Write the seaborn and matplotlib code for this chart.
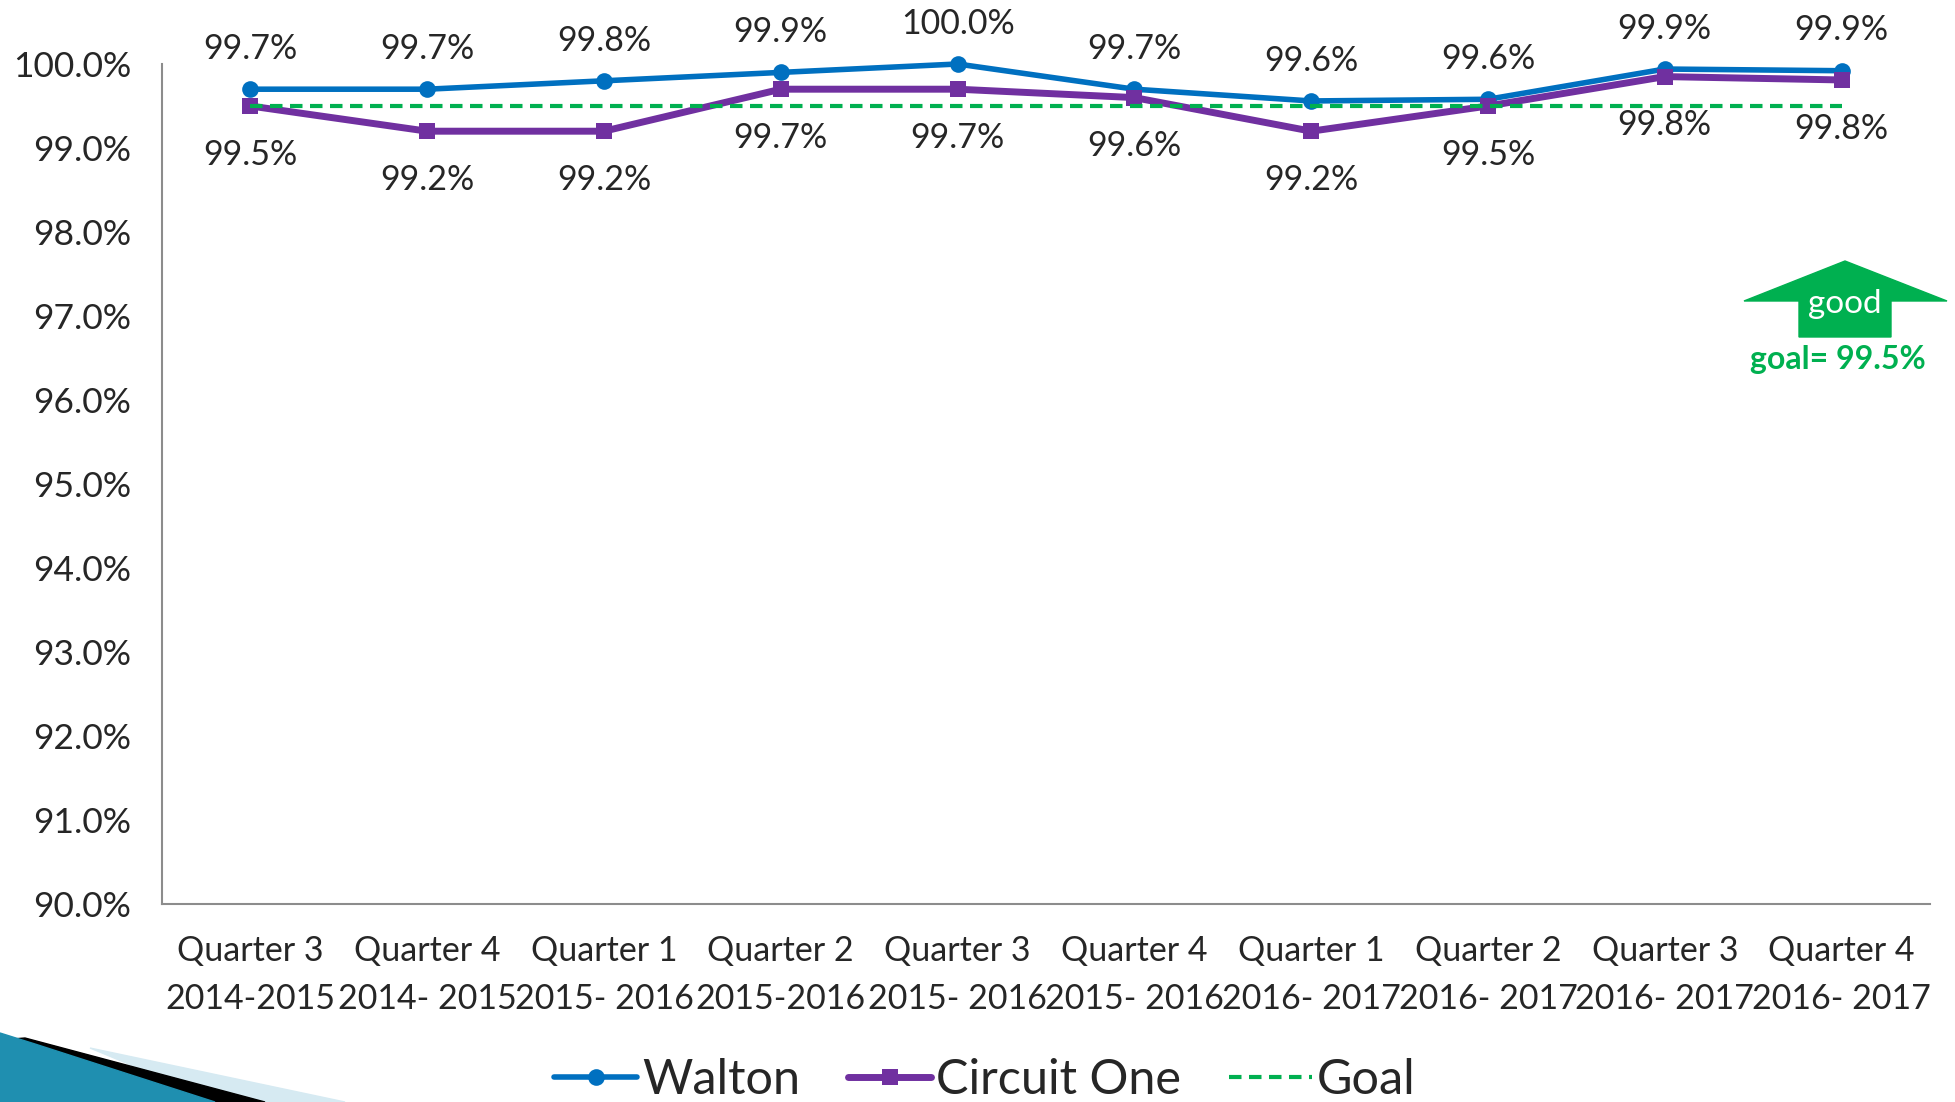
import numpy as np
import pandas as pd
import matplotlib.pyplot as plt
from matplotlib.patches import Polygon
import seaborn as sns

# quarters shown along the x axis
quarters = ['Quarter 3\n2014-2015', 'Quarter 4\n2014- 2015', 'Quarter 1\n2015- 2016',
            'Quarter 2\n2015-2016', 'Quarter 3\n2015- 2016', 'Quarter 4\n2015- 2016',
            'Quarter 1\n2016- 2017', 'Quarter 2\n2016- 2017', 'Quarter 3\n2016- 2017',
            'Quarter 4\n2016- 2017']
walton = [99.7, 99.7, 99.8, 99.9, 100.0, 99.7, 99.56, 99.58, 99.94, 99.92]
circuit_one = [99.5, 99.2, 99.2, 99.7, 99.7, 99.6, 99.2, 99.5, 99.85, 99.81]
goal = [99.5] * 10

BLUE = '#0070C0'
PURPLE = '#7030A0'
GREEN = '#00B050'

sns.set_style('white')
plt.rcParams['font.family'] = ['Lato', 'DejaVu Sans']

fig = plt.figure(figsize=(19.56, 11.02), dpi=100)
ax = fig.add_axes([162 / 1956, 1 - 904 / 1102, (1930 - 162) / 1956, (904 - 64) / 1102])

x = np.arange(len(quarters))
df = pd.DataFrame({'x': x, 'Walton': walton, 'Circuit One': circuit_one, 'Goal': goal})

sns.lineplot(data=df, x='x', y='Walton', ax=ax, color=BLUE, lw=4, marker='o',
             markersize=12, markeredgewidth=0, label='Walton', clip_on=False)
sns.lineplot(data=df, x='x', y='Circuit One', ax=ax, color=PURPLE, lw=5, marker='s',
             markersize=12, markeredgewidth=0, label='Circuit One', clip_on=False)
sns.lineplot(data=df, x='x', y='Goal', ax=ax, color=GREEN, lw=3, linestyle=(0, (3, 1.8)),
             label='Goal', clip_on=False)

# data labels: Walton above, Circuit One below
for i in x:
    ax.annotate(f'{walton[i]:.1f}%', (i, walton[i]), xytext=(0, 29), textcoords='offset points',
                ha='center', va='center', fontsize=24.5, annotation_clip=False)
    ax.annotate(f'{circuit_one[i]:.1f}%', (i, circuit_one[i]), xytext=(0, -35),
                textcoords='offset points', ha='center', va='center', fontsize=24.5,
                annotation_clip=False)

ax.set_xlim(-0.5, len(quarters) - 0.5)
ax.set_ylim(90, 100)
ax.set_yticks(np.arange(90, 100.1, 1))
ax.set_yticklabels([f'{v:.1f}%' for v in np.arange(90, 100.1, 1)], fontsize=25.5)
ax.set_xticks(x)
ax.set_xticklabels(quarters, fontsize=24.5, linespacing=1.62)
ax.set_xticks(np.arange(-0.5, len(quarters)), minor=True)
ax.tick_params(axis='x', which='major', length=0, pad=22)
ax.tick_params(axis='x', which='minor', length=12, color='#8c8c8c', width=1.5, direction='out')
ax.tick_params(axis='y', length=10, color='#8c8c8c', width=1.5, direction='out', pad=12)
ax.set_xlabel('')
ax.set_ylabel('')
for s in ['top', 'right']:
    ax.spines[s].set_visible(False)
for s in ['left', 'bottom']:
    ax.spines[s].set_color('#8c8c8c')
    ax.spines[s].set_linewidth(1.5)

leg = ax.legend(loc='center', bbox_to_anchor=(985 / 1956, 1 - 1080 / 1102),
                bbox_transform=fig.transFigure, ncol=3, frameon=False, fontsize=35,
                handlelength=1.7, handletextpad=0.1, columnspacing=1.0)

# "good" arrow with the goal note
def px(pts):
    return [(a / 1956, 1 - b / 1102) for a, b in pts]

arrow = px([(1845, 261), (1947, 301), (1891, 301), (1891, 337), (1799, 337), (1799, 301), (1744, 301)])
fig.patches.append(Polygon(arrow, closed=True, transform=fig.transFigure, color=GREEN, zorder=5))
fig.text(1845 / 1956, 1 - 304 / 1102, 'good', color='white', fontsize=24, ha='center', va='center', zorder=6)
fig.text(1838 / 1956, 1 - 359 / 1102, 'goal= 99.5%', color=GREEN, fontsize=23, fontweight='bold',
         ha='center', va='center')

# slide template decoration bottom left
fig.patches.append(Polygon(px([(90, 1048), (345, 1102), (220, 1102)]), closed=True,
                           transform=fig.transFigure, color='#d6eaf2', zorder=1))
fig.patches.append(Polygon(px([(25, 1038), (265, 1102), (215, 1102), (0, 1040)]), closed=True,
                           transform=fig.transFigure, color='black', zorder=2))
fig.patches.append(Polygon(px([(0, 1033), (35, 1044), (215, 1102), (0, 1102)]), closed=True,
                           transform=fig.transFigure, color='#1f8fb0', zorder=3))

fig.savefig('out.png', dpi=100)
